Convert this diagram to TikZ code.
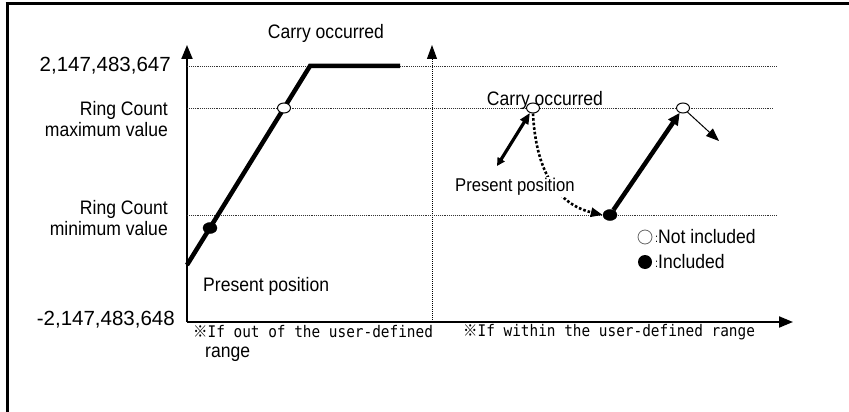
\documentclass[tikz,border=0pt]{standalone}
\usepackage{fontspec}
\setmainfont{Liberation Sans}
\newfontfamily\monof{DejaVu Sans Mono}
\newfontfamily\cjkf{Noto Sans CJK JP}
\usetikzlibrary{arrows.meta,shapes.geometric}
\newcommand{\nar}[1]{\scalebox{0.9}[1]{#1}}
\newcommand{\narr}[1]{\scalebox{0.9}[1]{\begin{tabular}{@{}r@{}}#1\end{tabular}}}
\newcommand{\mnar}[1]{\scalebox{0.9}[1]{#1}}
\begin{document}
\begin{tikzpicture}[x=1pt,y=-1pt,
  lbl/.style={inner sep=0pt,font=\fontsize{19.5}{20.5}\selectfont},
  big/.style={inner sep=0pt,font=\fontsize{20.5}{24}\selectfont},
  note/.style={inner sep=0pt,font=\fontsize{16}{18}\selectfont\monof},
  guide/.style={line width=0.9pt,densely dotted,black!80},
  axis/.style={line width=2pt,-{Triangle[width=11pt,length=14pt]}},
  thick4/.style={line width=4.5pt},
  opendot/.style={ellipse,draw,fill=white,line width=1pt,minimum width=13pt,minimum height=10pt,inner sep=0pt},
  fulldot/.style={ellipse,draw,fill=black,minimum width=14pt,minimum height=11pt,inner sep=0pt}]
\useasboundingbox (0,0) rectangle (849,412);
% frame
\draw[line width=3pt] (5.5,4) -- (849,4);
\draw[line width=3pt] (7.5,2.5) -- (7.5,412);
% axes
\coordinate (o) at (187,322);
\coordinate (ytop) at (187,45);
\coordinate (xend) at (793,322);
\draw[axis] (o) -- (ytop);
\draw[axis] (o) -- (xend);
\coordinate (d0) at (432,322);
\coordinate (d1) at (432,45);
\draw[line width=1pt,densely dotted,-{Triangle[width=10pt,length=14pt]}] (d0) -- (d1);
% guides
\coordinate (g1a) at (187,66); \coordinate (g1b) at (777,66);
\coordinate (g2a) at (187,108); \coordinate (g2b) at (773,108);
\coordinate (g3a) at (187,215); \coordinate (g3b) at (777,215);
\draw[guide] (g1a) -- (g1b);
\draw[guide] (g2a) -- (g2b);
\draw[guide] (g3a) -- (g3b);
% left graph
\coordinate (l0) at (187,265);
\coordinate (l1) at (310,66);
\coordinate (l2) at (400,66);
\draw[thick4] (l0) -- (l1) -- (l2);
\node[opendot] (lo) at (284,108) {};
\node[fulldot] (lf) at (210,228) {};
% right graph
\node[opendot] (ro1) at (533,108) {};
\node[fulldot] (rf) at (610,215) {};
\node[opendot] (ro2) at (683,108) {};
\coordinate (da) at (497,166);
\draw[line width=3.2pt,{Triangle[width=8pt,length=8pt]}-{Triangle[width=9pt,length=11pt]}] (da) -- (ro1);
\draw[line width=2.6pt,dotted,-{Triangle[width=9pt,length=12pt]}] (ro1.south) .. controls (536,175) and (560,205) .. (rf.west);
\draw[thick4,-{Triangle[width=11pt,length=12pt]}] (rf) -- (ro2);
\coordinate (ta) at (719,141);
\draw[line width=1pt,-{Triangle[width=10pt,length=13pt]}] (ro2) -- (ta);
% texts
\node[lbl] (t1) at (326,33) {\nar{Carry occurred}};
\node[big,anchor=east] (t2) at (171,66) {2,147,483,647};
\node[lbl,anchor=east] (t3) at (168,122) {\narr{Ring Count\\maximum value}};
\node[lbl,anchor=east] (t4) at (168,221) {\narr{Ring Count\\minimum value}};
\node[big,anchor=east] (t5) at (175,320) {-2,147,483,648};
\node[lbl,anchor=west] (t6) at (203,286) {\nar{Present position}};
\node[note,anchor=west] (t7) at (193,332) {\mnar{{\cjkf ※}If out of the user-defined}};
\node[inner sep=0pt,font=\fontsize{19.5}{24}\selectfont,anchor=west] (t8) at (205,354) {\nar{range}};
\node[lbl,anchor=center] (t9) at (545,100) {\nar{Carry occurred}};
\node[inner sep=1pt,fill=white,font=\fontsize{18.5}{19}\selectfont,anchor=west] (t10) at (454,187) {\nar{Present position}};
\node[note,anchor=west] (t11) at (463,332) {\mnar{{\cjkf ※}If within the user-defined range}};
% legend
\node[circle,draw=black!60,line width=0.8pt,minimum size=14pt,inner sep=0pt] (lg1) at (645,237) {};
\node[lbl,anchor=west] (lt1) at (655,237) {\nar{\raisebox{1pt}{\fontsize{12}{12}\selectfont:}Not included}};
\node[circle,fill=black,minimum size=14pt,inner sep=0pt] (lg2) at (645,262) {};
\node[lbl,anchor=west] (lt2) at (655,262) {\nar{\raisebox{1pt}{\fontsize{12}{12}\selectfont:}Included}};
\end{tikzpicture}
\end{document}
